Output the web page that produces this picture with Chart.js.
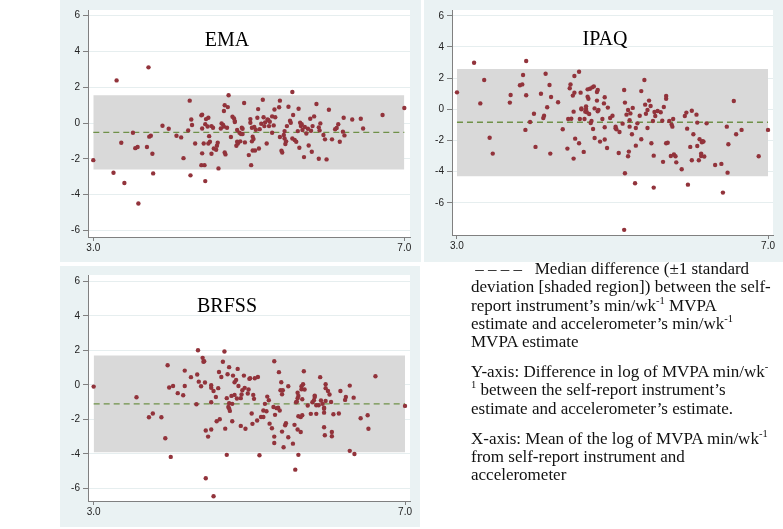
<!DOCTYPE html>
<html>
<head>
<meta charset="utf-8">
<script src="https://cdn.jsdelivr.net/npm/chart.js@4.4.0/dist/chart.umd.min.js"></script>
<style>
  body { margin: 0; background: #fff; width: 783px; height: 529px; position: relative; overflow: hidden; }
  .panel { position: absolute; background: #eaf2f3; }
  .panel canvas { display: block; }
  .title { position: absolute; width: 120px; text-align: center; font-family: "Liberation Serif", "Times New Roman", serif; font-size: 20px; line-height: 20px; color: #000; }
  .note { position: absolute; left: 471px; top: 260px; width: 312px; font-family: "Liberation Serif", "Times New Roman", serif; font-size: 17px; line-height: 18.3px; color: #111; }
  .note p { margin: 0 0 11.7px 0; white-space: nowrap; }
  .note sup { font-size: 10.5px; line-height: 0; }
</style>
</head>
<body>
<div class="panel" id="p0" style="left:60px;top:0;width:361px;height:262px"><canvas id="c0"></canvas></div>
<div class="panel" id="p1" style="left:424px;top:0;width:359px;height:262px"><canvas id="c1"></canvas></div>
<div class="panel" id="p2" style="left:60px;top:266px;width:360px;height:261px"><canvas id="c2"></canvas></div>
<div class="title" style="left:167px;top:29px">EMA</div>
<div class="title" style="left:545px;top:27.5px">IPAQ</div>
<div class="title" style="left:167px;top:294.5px">BRFSS</div>
<div class="note">
  <p>&nbsp;– – – –&nbsp;&nbsp; Median difference (±1 standard<br>deviation [shaded region]) between the self-<br>report instrument’s min/wk<sup>-1</sup> MVPA<br>estimate and accelerometer’s min/wk<sup>-1</sup><br>MVPA estimate</p>
  <p>Y-axis: Difference in log of MVPA min/wk<sup>-</sup><br><sup>1</sup> between the self-report instrument’s<br>estimate and accelerometer’s estimate.</p>
  <p>X-axis: Mean of the log of MVPA min/wk<sup>-1</sup><br>from self-report instrument and<br>accelerometer</p>
</div>
<script>
// points: [mean of logs, difference of logs]
var emaPts = [[3.00,-2.07],[3.26,-2.77],[3.30,2.38],[3.36,-1.10],[3.40,-3.35],[3.51,-0.54],[3.54,-1.40],[3.57,-1.34],[3.58,-4.49],[3.69,-1.34],
  [3.71,3.11],[3.72,-0.76],[3.74,-0.71],[3.76,-1.71],[3.77,-2.81],[3.89,-0.15],[3.97,-0.32],[4.07,-0.71],[4.13,-0.80],[4.16,-1.96],
  [4.22,-0.41],[4.24,1.25],[4.25,-2.92],[4.26,0.20],[4.27,-0.11],[4.31,-1.14],[4.39,0.43],[4.40,0.47],[4.40,-0.30],[4.40,-1.69],
  [4.39,-2.35],[4.42,-1.14],[4.43,-2.35],[4.44,-3.24],[4.44,-0.06],[4.45,0.22],[4.47,-0.19],[4.48,0.30],[4.49,-0.73],[4.48,-1.14],
  [4.50,-1.04],[4.52,-0.17],[4.52,-1.71],[4.54,-0.26],[4.55,-1.42],[4.58,-1.49],[4.59,-1.27],[4.60,-1.10],[4.61,-2.53],[4.64,-0.30],
  [4.65,-0.02],[4.67,-0.11],[4.68,-0.20],[4.68,0.67],[4.69,0.99],[4.69,-1.64],[4.70,-1.75],[4.72,-0.26],[4.73,0.89],[4.74,1.55],
  [4.77,-0.78],[4.79,0.35],[4.81,0.26],[4.82,0.11],[4.82,0.06],[4.84,-1.27],[4.85,-0.39],[4.85,-1.04],[4.86,-1.14],[4.88,-0.54],
  [4.89,-1.02],[4.90,-0.61],[4.91,-0.26],[4.92,-0.32],[4.92,-0.61],[4.94,1.12],[4.95,-1.08],[5.00,-1.79],[5.02,0.22],[5.02,0.02],
  [5.03,-2.35],[5.04,-0.26],[5.04,-1.02],[5.05,-0.76],[5.05,-1.53],[5.06,-0.89],[5.07,-0.22],[5.08,-1.53],[5.09,-0.37],[5.11,0.30],
  [5.12,0.78],[5.13,-1.42],[5.14,-0.34],[5.16,-0.04],[5.18,1.30],[5.19,0.32],[5.20,-0.17],[5.21,0.04],[5.23,-1.14],[5.24,0.20],
  [5.25,0.17],[5.26,-0.17],[5.27,0.07],[5.30,0.37],[5.30,-0.54],[5.32,-0.13],[5.33,0.76],[5.34,0.32],[5.39,0.88],[5.40,-0.78],
  [5.40,1.25],[5.42,-1.55],[5.43,-1.64],[5.45,-0.67],[5.46,-0.45],[5.46,-0.86],[5.47,-1.17],[5.48,-1.02],[5.49,-0.17],[5.51,0.91],
  [5.53,0.13],[5.54,0.02],[5.56,-0.86],[5.56,1.73],[5.57,0.45],[5.59,-0.95],[5.61,-1.04],[5.63,-0.45],[5.64,0.80],[5.65,-1.38],
  [5.66,0.02],[5.67,-0.17],[5.68,-0.06],[5.69,-0.39],[5.71,-1.90],[5.72,-0.22],[5.74,-0.58],[5.76,-0.32],[5.77,-1.25],[5.79,0.24],
  [5.80,-0.43],[5.81,-1.60],[5.82,-0.17],[5.84,0.37],[5.87,1.06],[5.90,-0.24],[5.90,-1.99],[5.91,-0.41],[5.92,-0.02],[5.96,-0.67],
  [5.98,-0.91],[6.00,-2.03],[6.03,0.74],[6.07,-0.91],[6.11,-0.35],[6.13,-0.28],[6.15,-0.07],[6.17,-1.04],[6.21,-0.48],[6.22,0.30],
  [6.23,-0.69],[6.33,0.20],[6.44,0.24],[6.47,-0.30],[6.72,0.45],[7.00,0.84]];

var ipaqPts = [[3.00,1.09],[3.22,2.99],[3.30,0.38],[3.35,1.88],[3.42,-1.82],[3.46,-2.84],[3.68,0.43],[3.69,0.92],[3.81,1.54],[3.84,1.60],
  [3.85,2.20],[3.88,-1.32],[3.89,3.10],[3.89,0.90],[3.94,-0.81],[3.99,-0.28],[4.01,-2.41],[4.08,1.00],[4.11,-0.56],[4.12,-0.41],
  [4.14,2.28],[4.16,0.13],[4.19,1.56],[4.20,-2.84],[4.21,0.79],[4.30,0.45],[4.36,-1.28],[4.42,-2.52],[4.43,-0.62],[4.45,1.35],
  [4.46,1.60],[4.47,-0.60],[4.49,0.88],[4.50,-3.16],[4.50,-0.15],[4.51,2.14],[4.51,1.07],[4.52,-1.88],[4.57,2.41],[4.57,-2.18],
  [4.58,-0.62],[4.59,1.07],[4.60,0.00],[4.60,0.06],[4.63,-2.73],[4.64,-0.62],[4.65,-0.15],[4.66,0.02],[4.66,0.19],[4.67,-0.19],
  [4.68,1.28],[4.68,0.81],[4.69,0.68],[4.70,-0.30],[4.71,1.32],[4.72,-0.88],[4.73,-0.75],[4.74,1.41],[4.75,-1.26],[4.76,1.47],
  [4.77,0.06],[4.77,-1.84],[4.80,0.56],[4.80,1.11],[4.81,1.24],[4.81,-0.13],[4.82,-0.04],[4.84,-2.07],[4.87,-0.62],[4.89,0.38],
  [4.90,0.77],[4.90,-1.15],[4.90,-1.94],[4.93,-2.48],[4.94,0.11],[4.97,-0.56],[5.00,-0.41],[5.04,-1.11],[5.04,-1.22],[5.05,-1.28],
  [5.08,-2.80],[5.09,-1.45],[5.13,-0.92],[5.15,1.24],[5.16,0.43],[5.16,-4.10],[5.15,-7.73],[5.18,-0.34],[5.20,-0.04],[5.20,-3.01],
  [5.22,-0.70],[5.21,-2.71],[5.23,-0.26],[5.22,-1.11],[5.25,-1.60],[5.26,0.09],[5.29,-4.74],[5.30,-2.33],[5.30,-1.20],[5.32,-0.90],
  [5.35,-0.41],[5.37,1.17],[5.37,-1.92],[5.41,1.88],[5.42,0.30],[5.43,-0.28],[5.45,-0.04],[5.45,-1.20],[5.47,0.56],[5.49,0.21],
  [5.50,-2.18],[5.52,-0.75],[5.53,-2.97],[5.54,-0.17],[5.53,-5.02],[5.55,-0.43],[5.58,-0.11],[5.62,-0.19],[5.64,-0.73],[5.65,-3.37],
  [5.66,0.15],[5.69,0.68],[5.69,0.85],[5.69,-2.18],[5.71,-2.14],[5.73,-0.75],[5.75,-2.99],[5.76,-0.98],[5.77,-1.11],[5.78,-0.62],
  [5.79,-2.90],[5.81,-3.01],[5.82,-3.40],[5.89,-3.84],[5.93,-0.43],[5.95,-0.21],[5.96,-1.24],[5.97,-4.83],[6.00,-2.41],[6.02,-3.27],
  [6.02,-0.09],[6.04,-1.60],[6.08,-0.34],[6.09,-0.85],[6.09,-2.35],[6.11,-3.27],[6.12,-1.92],[6.14,-2.84],[6.14,-2.99],[6.15,-2.11],
  [6.16,-2.05],[6.17,-2.07],[6.18,-3.03],[6.21,-0.90],[6.32,-3.57],[6.40,-3.50],[6.42,-5.34],[6.47,-1.11],[6.49,-2.24],[6.48,-4.06],
  [6.56,0.53],[6.59,-1.60],[6.66,-1.32],[6.88,-3.01],[7.00,-1.32]];

var brfssPts = [[3.00,-0.10],[3.55,-0.72],[3.71,-1.88],[3.76,-1.66],[3.87,-1.88],[3.92,-3.10],[3.95,1.14],[3.97,-0.15],[3.99,-4.18],[4.02,-0.06],
  [4.08,-0.48],[4.15,-0.60],[4.17,0.83],[4.17,-0.06],[4.25,0.45],[4.32,-1.12],[4.33,0.60],[4.34,2.01],[4.35,0.19],[4.38,-0.08],
  [4.40,1.57],[4.41,1.34],[4.42,1.37],[4.43,0.14],[4.44,-5.42],[4.44,-2.65],[4.47,-3.00],[4.51,-0.02],[4.51,-0.17],[4.51,-1.01],
  [4.51,-2.59],[4.54,-0.35],[4.54,-6.46],[4.57,-0.70],[4.58,-2.11],[4.60,-0.19],[4.61,0.75],[4.62,-1.99],[4.64,0.46],[4.66,1.34],
  [4.68,1.94],[4.69,-2.54],[4.71,-0.77],[4.71,-4.06],[4.72,0.62],[4.73,-1.28],[4.74,1.03],[4.74,-1.06],[4.74,-1.37],[4.75,-1.51],
  [4.77,-0.64],[4.78,-1.10],[4.78,-2.11],[4.79,0.54],[4.81,-0.58],[4.81,0.15],[4.83,0.29],[4.84,-0.79],[4.85,0.93],[4.86,-0.06],
  [4.89,-2.38],[4.89,-0.77],[4.90,-0.56],[4.91,-0.31],[4.93,0.54],[4.94,-0.17],[4.95,-2.55],[4.98,-0.50],[4.99,-0.27],[5.00,0.35],
  [5.01,0.39],[5.03,-1.66],[5.04,-2.26],[5.05,-0.58],[5.06,-0.81],[5.07,0.39],[5.10,-2.07],[5.11,0.46],[5.13,-4.08],[5.15,-1.86],
  [5.18,-1.86],[5.18,-1.49],[5.20,-1.10],[5.22,-1.53],[5.23,-0.68],[5.25,-0.89],[5.26,-2.25],[5.29,-2.52],[5.31,-1.28],[5.32,-3.00],
  [5.32,-3.37],[5.32,1.37],[5.33,-1.74],[5.35,-1.35],[5.37,-1.32],[5.38,0.74],[5.39,-1.49],[5.40,-0.31],[5.41,0.15],[5.42,-2.71],
  [5.42,-0.54],[5.43,-0.31],[5.44,-3.62],[5.46,-2.34],[5.47,-2.23],[5.50,-0.08],[5.50,-3.04],[5.56,-3.41],[5.58,-2.32],[5.59,-4.92],
  [5.60,-1.01],[5.61,-0.97],[5.62,-0.46],[5.62,-2.59],[5.62,-0.77],[5.63,-4.06],[5.63,-0.64],[5.63,-1.82],[5.66,-1.86],[5.66,-2.73],
  [5.67,-0.25],[5.67,-0.08],[5.68,-0.83],[5.68,-1.76],[5.69,0.04],[5.70,0.79],[5.71,-0.27],[5.75,-1.20],[5.79,-1.68],[5.81,-1.01],
  [5.83,-0.89],[5.84,-0.70],[5.84,-0.62],[5.86,-1.18],[5.86,-1.68],[5.89,-1.18],[5.91,0.45],[5.92,-0.91],[5.94,-1.10],[5.96,-1.61],
  [5.96,-2.46],[5.96,-1.32],[5.96,-1.39],[5.97,-2.92],[5.98,0.04],[5.98,-0.19],[5.98,-0.93],[6.01,-0.35],[6.03,-0.56],[6.05,-0.99],
  [6.06,-2.73],[6.06,-2.98],[6.08,-1.70],[6.15,-1.66],[6.17,-0.35],[6.23,-0.87],[6.24,-0.70],[6.29,-3.83],[6.29,-0.04],[6.34,-0.74],
  [6.35,-4.01],[6.43,-1.94],[6.52,-1.76],[6.53,-2.55],[6.62,0.50],[7.00,-1.22]];

// median difference and +/-1 SD band per instrument
var medians = [-0.52, -0.83, -1.10];
var bandHigh = [1.55, 2.58, 1.70];
var bandLow = [-2.59, -4.29, -3.91];
var bandX = [3, 7];

var yTicks = [-6, -4, -2, 0, 2, 4, 6];
var xTicks = [3, 7];

// plot region is white inside the bluish graph region
var plotBg = {
  id: 'plotBg',
  beforeDraw: function(chart){
    var a = chart.chartArea, ctx = chart.ctx;
    ctx.save();
    ctx.fillStyle = '#ffffff';
    ctx.fillRect(a.left, a.top, a.right - a.left, a.bottom - a.top);
    ctx.restore();
  }
};

function makePanel(id, pts, i, lay){
  var flat = function(v){ return bandX.map(function(x){ return {x: x, y: v}; }); };
  return new Chart(document.getElementById(id), {
    type: 'scatter',
    data: {
      datasets: [
        {
          data: pts.map(function(p){ return {x: p[0], y: p[1]}; }),
          backgroundColor: '#92333b',
          borderWidth: 0,
          pointRadius: 2.2,
          order: 1
        },
        {
          type: 'line',
          data: flat(medians[i]),
          borderColor: '#6f9148',
          borderWidth: 1.4,
          borderDash: [6, 4],
          pointRadius: 0,
          fill: false,
          order: 2
        },
        {
          type: 'line',
          data: flat(bandHigh[i]),
          borderWidth: 0,
          borderColor: 'rgba(0,0,0,0)',
          backgroundColor: '#d9d9d9',
          pointRadius: 0,
          fill: {value: bandLow[i]},
          order: 3
        }
      ]
    },
    options: {
      responsive: false,
      animation: false,
      events: [],
      layout: {padding: {left: 0, top: lay.top, right: lay.right, bottom: 0}},
      plugins: {legend: {display: false}, tooltip: {enabled: false}},
      scales: {
        x: {
          type: 'linear',
          min: lay.xMin, max: lay.xMax,
          afterBuildTicks: function(s){ s.ticks = xTicks.map(function(v){ return {value: v}; }); },
          afterFit: function(s){ s.height = lay.xh; },
          border: {color: '#808080'},
          grid: {drawOnChartArea: false, tickLength: 4, tickColor: '#808080'},
          ticks: {
            maxRotation: 0, autoSkip: false, padding: 1, color: '#222',
            font: {family: 'Liberation Sans, Arial', size: 10},
            callback: function(v){ return Number(v).toFixed(1); }
          }
        },
        y: {
          min: lay.yMin, max: lay.yMax,
          afterBuildTicks: function(s){ s.ticks = yTicks.map(function(v){ return {value: v}; }); },
          afterFit: function(s){ s.width = 28; },
          border: {color: '#808080'},
          grid: {color: '#e6eeef', tickLength: 5, tickColor: '#808080'},
          ticks: {padding: 3, color: '#222', font: {family: 'Liberation Sans, Arial', size: 10}}
        }
      }
    },
    plugins: [plotBg]
  });
}

function sizeCanvas(id, w, h){
  var c = document.getElementById(id);
  c.width = w; c.height = h;
  c.style.width = w + 'px'; c.style.height = h + 'px';
}

sizeCanvas('c0', 361, 262);
sizeCanvas('c1', 359, 262);
sizeCanvas('c2', 360, 261);

makePanel('c0', emaPts, 0, {top: 10, right: 11, xh: 25, xMin: 2.932, xMax: 7.073, yMin: -6.36, yMax: 6.31});
makePanel('c1', ipaqPts, 1, {top: 10, right: 10, xh: 27, xMin: 2.936, xMax: 7.064, yMin: -8.06, yMax: 6.37});
makePanel('c2', brfssPts, 2, {top: 9, right: 10, xh: 26, xMin: 2.927, xMax: 7.064, yMin: -6.74, yMax: 6.38});
</script>
</body>
</html>
